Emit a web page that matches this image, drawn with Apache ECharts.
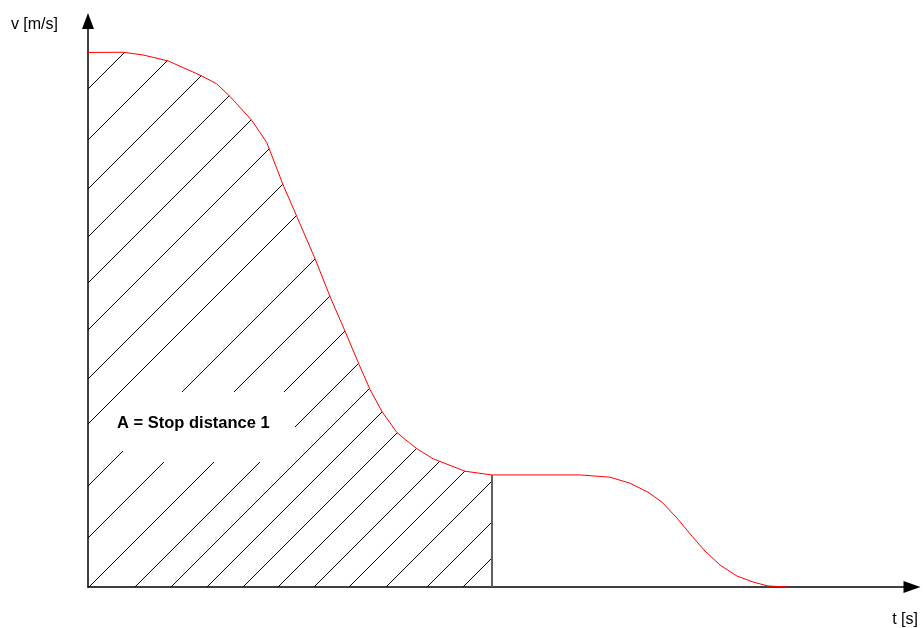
<!DOCTYPE html>
<html>
<head>
<meta charset="utf-8">
<script src="https://cdn.jsdelivr.net/npm/echarts@6/dist/echarts.min.js"></script>
<style>
  html, body { margin: 0; padding: 0; background: #ffffff; }
  #chart { width: 923px; height: 628px; }
</style>
</head>
<body>
<div id="chart"></div>
<script>
// ---- data (t in s, v in m/s; no tick labels in the original) ----
const tCurve = [0, 0.425, 0.667, 0.971, 1.380, 1.562, 1.723, 1.987, 2.169, 2.367, 2.533, 2.755, 2.937, 3.119, 3.289, 3.422, 3.564, 3.746, 3.847, 3.989, 4.187, 4.575, 4.899, 5.971, 6.335, 6.578, 6.796, 6.966, 7.148, 7.330, 7.488, 7.670, 7.876, 8.070, 8.252, 8.495];
const vCurve = [9.444, 9.448, 9.400, 9.295, 9.030, 8.889, 8.668, 8.245, 7.854, 7.108, 6.549, 5.802, 5.132, 4.520, 3.933, 3.492, 3.109, 2.734, 2.610, 2.446, 2.266, 2.046, 1.98, 1.98, 1.940, 1.834, 1.675, 1.499, 1.217, 0.899, 0.635, 0.388, 0.194, 0.088, 0.018, 0];
const tStop = 4.899;          // end of the hatched area "A"
const vStop = 1.98;
// hatch lines, given by where each (extended) line meets the t-axis
const hatchT0 = [-6.044, -5.425, -4.830, -4.248, -3.689, -3.119, -2.524, -1.978, -1.226, -0.595, 0.012, 0.570, 1.007, 1.444, 1.881, 2.306, 2.743, 3.167, 3.617, 4.114, 4.551];
const xName = 't [s]';
const yName = 'v [m/s]';
const areaLabel = 'A = Stop distance 1';

const FONT = '"Liberation Sans", Arial, Helvetica, sans-serif';

function renderHatch(params, api) {
  const t0 = api.value(0);
  const p0 = api.coord([t0, 0]);
  const origin = api.coord([0, 0]);
  const c = p0[0] + p0[1];
  const xl = origin[0], yb = origin[1];
  let sx, sy;
  if (p0[0] >= xl) { sx = p0[0]; sy = yb; } else { sx = xl; sy = c - xl; }
  const xs = api.coord([tStop, 0])[0];
  let ex = xs, ey = c - xs;
  for (let i = 0; i < tCurve.length - 1; i++) {
    if (tCurve[i] >= tStop) break;
    const a = api.coord([tCurve[i], vCurve[i]]);
    const b = api.coord([tCurve[i + 1], vCurve[i + 1]]);
    const ga = (c - a[0]) - a[1];
    const gb = (c - b[0]) - b[1];
    if (ga >= 0 && gb <= 0) {
      const k = ga / (ga - gb);
      ex = a[0] + k * (b[0] - a[0]);
      ey = a[1] + k * (b[1] - a[1]);
      break;
    }
  }
  if (ex > xs) { ex = xs; ey = c - xs; }
  return {
    type: 'line',
    shape: { x1: sx, y1: sy, x2: ex, y2: ey },
    style: { stroke: '#000000', lineWidth: 1 }
  };
}

const chart = echarts.init(document.getElementById('chart'), null, { renderer: 'canvas' });
chart.setOption({
  backgroundColor: '#ffffff',
  animation: false,
  grid: { left: 88, right: 11, top: 21, bottom: 40 },
  xAxis: {
    type: 'value', min: 0, max: 10,
    name: xName, nameLocation: 'end', nameGap: 6,
    nameTextStyle: { fontFamily: FONT, fontSize: 16, color: '#000', align: 'right', verticalAlign: 'top', padding: [25, 0, 0, 0] },
    axisLine: { show: true, lineStyle: { color: '#000', width: 1.5 }, symbol: ['none', 'triangle'], symbolSize: [12, 17] },
    axisTick: { show: false }, axisLabel: { show: false }, splitLine: { show: false }
  },
  yAxis: {
    type: 'value', min: 0, max: 10,
    name: yName, nameLocation: 'end', nameGap: -4,
    nameTextStyle: { fontFamily: FONT, fontSize: 16, color: '#000', align: 'right', verticalAlign: 'middle', padding: [0, 30, 0, 0] },
    axisLine: { show: true, lineStyle: { color: '#000', width: 1.5 }, symbol: ['none', 'triangle'], symbolSize: [12, 16] },
    axisTick: { show: false }, axisLabel: { show: false }, splitLine: { show: false }
  },
  series: [
    {
      type: 'custom',
      name: 'hatch',
      renderItem: renderHatch,
      data: hatchT0.map(t => [t, 0]),
      silent: true,
      z: 2
    },
    {
      type: 'line',
      name: 'v',
      data: tCurve.map((t, i) => [t, vCurve[i]]),
      showSymbol: false,
      lineStyle: { color: '#ff0000', width: 1 },
      itemStyle: { color: '#ff0000' },
      z: 4,
      markLine: {
        silent: true,
        symbol: ['none', 'none'],
        label: { show: false },
        lineStyle: { color: '#606060', width: 2, type: 'solid' },
        data: [[{ coord: [tStop, 0] }, { coord: [tStop, vStop] }]]
      }
    }
  ],
  graphic: [
    { type: 'rect', z: 50, shape: { x: 123, y: 392, width: 172, height: 70 }, style: { fill: '#ffffff' }, silent: true },
    { type: 'text', z: 60, style: { x: 117, y: 423.5, text: areaLabel, font: 'bold 16.5px ' + FONT, fill: '#000', textVerticalAlign: 'middle' }, silent: true }
  ]
});
</script>
</body>
</html>
